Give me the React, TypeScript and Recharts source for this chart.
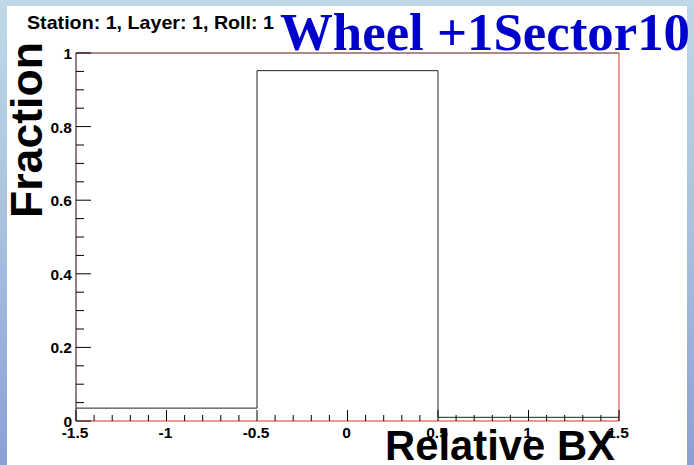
import { ComposedChart, Line, XAxis, YAxis } from "recharts";

// histogram bins (relative BX) and fraction in each bin
const binCenters = [-1, 0, 1];
const fractions = [0.035, 0.952, 0.01];
const binWidth = 1;

const xMajorTicks = [-1.5, -1, -0.5, 0, 0.5, 1, 1.5];
const yMajorTicks = [0, 0.2, 0.4, 0.6, 0.8, 1];
const xMinorPerMajor = 5;
const yMinorPerMajor = 4;

const title = "Station: 1, Layer: 1, Roll: 1";
const bigTitle = "Wheel +1Sector10";
const xTitle = "Relative BX";
const yTitle = "Fraction";

// step points: left edge of each bin, plus closing right edge
const stepData = [
  ...binCenters.map((c, i) => ({ x: c - binWidth / 2, y: fractions[i] })),
  { x: binCenters[binCenters.length - 1] + binWidth / 2, y: fractions[fractions.length - 1] },
];

function subdivide(major: number[], n: number) {
  const out: number[] = [];
  for (let i = 0; i < major.length - 1; i++) {
    const step = (major[i + 1] - major[i]) / n;
    for (let k = 0; k < n; k++) out.push(+(major[i] + k * step).toFixed(4));
  }
  out.push(major[major.length - 1]);
  return out;
}

const xTicks = subdivide(xMajorTicks, xMinorPerMajor);
const yTicks = subdivide(yMajorTicks, yMinorPerMajor);

const isMajor = (v: number, list: number[]) => list.some((m) => Math.abs(m - v) < 1e-6);

const labelFont = "'Liberation Sans', Arial, sans-serif";

function XTick(props: any) {
  const { x, y, payload } = props;
  const major = isMajor(payload.value, xMajorTicks);
  return (
    <g>
      <line x1={x} x2={x} y1={y} y2={y - (major ? 11 : 6)} stroke="#000" strokeWidth={1} />
      {major && (
        <text x={x - 1} y={y + 17} textAnchor="middle" fontFamily={labelFont} fontWeight="bold" fontSize={15.5} fill="#000">
          {String(payload.value)}
        </text>
      )}
    </g>
  );
}

function YTick(props: any) {
  const { x, y, payload } = props;
  const major = isMajor(payload.value, yMajorTicks);
  return (
    <g>
      <line x1={x} x2={x + (major ? 15 : 8)} y1={y} y2={y} stroke="#000" strokeWidth={1} />
      {major && (
        <text x={x - 4} y={y + 6} textAnchor="end" fontFamily={labelFont} fontWeight="bold" fontSize={15.5} fill="#000">
          {String(payload.value)}
        </text>
      )}
    </g>
  );
}

export default function App() {
  return (
    <div
      style={{
        position: "absolute",
        left: 0,
        top: 0,
        width: 694,
        height: 465,
        background: "linear-gradient(to bottom, #bfd8e8 0%, #a9c0de 50%, #8c9fd5 100%)",
        overflow: "hidden",
      }}
    >
      <div style={{ position: "absolute", left: 7, top: 6, width: 680, height: 459, background: "#fff" }} />
      <div style={{ position: "absolute", left: 0, top: 0 }}>
        <ComposedChart
          width={694}
          height={465}
          data={stepData}
          margin={{ top: 52, right: 74, bottom: 43, left: 75 }}
        >
          <XAxis
            xAxisId="top"
            orientation="top"
            type="number"
            dataKey="x"
            domain={[-1.5, 1.5]}
            height={1}
            tick={false}
            tickLine={false}
            axisLine={{ stroke: "#5a1515" }}
          />
          <YAxis
            yAxisId="right"
            orientation="right"
            domain={[0, 1]}
            width={1}
            tick={false}
            tickLine={false}
            axisLine={{ stroke: "#e03030" }}
          />
          <XAxis
            type="number"
            dataKey="x"
            domain={[-1.5, 1.5]}
            ticks={xTicks}
            interval={0}
            height={1}
            tickSize={0}
            tickMargin={0}
            tickLine={false}
            tick={<XTick />}
            axisLine={{ stroke: "#e03030" }}
            allowDataOverflow
            label={(p: any) => {
              const vb = p.viewBox || { x: 76, y: 421, width: 543 };
              return (
                <text
                  x={vb.x + vb.width - 4}
                  y={vb.y + 39}
                  textAnchor="end"
                  fontFamily={labelFont}
                  fontWeight="bold"
                  fontSize={43}
                  textLength={230}
                  lengthAdjust="spacingAndGlyphs"
                  fill="#000"
                >
                  {xTitle}
                </text>
              );
            }}
          />
          <YAxis
            domain={[0, 1]}
            ticks={yTicks}
            interval={0}
            width={1}
            tickSize={0}
            tickMargin={0}
            tickLine={false}
            tick={<YTick />}
            axisLine={{ stroke: "#300" }}
            allowDataOverflow
            label={(p: any) => {
              const vb = p.viewBox || { x: 75, y: 53 };
              const lx = vb.x - 33;
              const ly = vb.y - 11;
              return (
                <text
                  x={lx}
                  y={ly}
                  transform={`rotate(-90, ${lx}, ${ly})`}
                  textAnchor="end"
                  fontFamily={labelFont}
                  fontWeight="bold"
                  fontSize={45}
                  textLength={176}
                  lengthAdjust="spacingAndGlyphs"
                  fill="#000"
                >
                  {yTitle}
                </text>
              );
            }}
          />
          <Line
            type="stepAfter"
            dataKey="y"
            stroke="#222"
            strokeWidth={1}
            dot={false}
            activeDot={false}
            isAnimationActive={false}
          />
        </ComposedChart>
      </div>
      <svg width={694} height={465} style={{ position: "absolute", left: 0, top: 0, pointerEvents: "none" }}>
        <text
          x={27}
          y={29}
          fontFamily={labelFont}
          fontWeight="bold"
          fontSize={19}
          textLength={247}
          lengthAdjust="spacingAndGlyphs"
          fill="#000"
        >
          {title}
        </text>
        <text
          x={280}
          y={50}
          fontFamily="'Liberation Serif', 'Times New Roman', serif"
          fontWeight="bold"
          fontSize={52}
          textLength={410}
          lengthAdjust="spacingAndGlyphs"
          fill="#0000cc"
        >
          {bigTitle}
        </text>
      </svg>
    </div>
  );
}
